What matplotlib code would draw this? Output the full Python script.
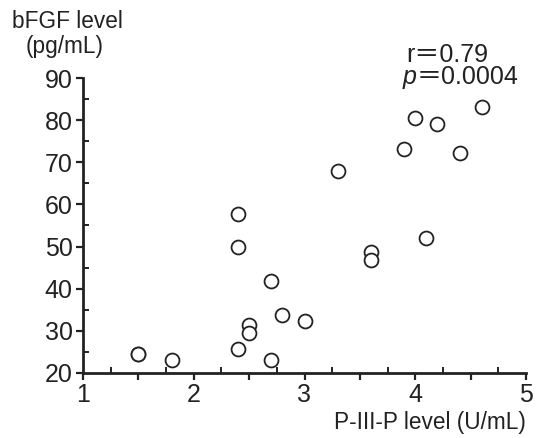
import matplotlib
matplotlib.use("Agg")
import matplotlib.pyplot as plt
from matplotlib.ticker import MultipleLocator, FixedLocator

plt.rcParams['font.family'] = ['Liberation Sans', 'DejaVu Sans']

# P-III-P level (U/mL) and bFGF level (pg/mL) per patient
p3p = [1.5, 1.5, 1.8, 2.4, 2.4, 2.4, 2.5, 2.5, 2.7, 2.7, 2.8, 3.0,
       3.3, 3.6, 3.6, 3.9, 4.0, 4.1, 4.2, 4.4, 4.6]
bfgf = [24.6, 24.5, 23.2, 57.8, 49.8, 25.7, 31.5, 29.5, 41.8, 23.2, 33.7, 32.3,
        68.0, 48.7, 46.7, 73.2, 80.6, 52.0, 79.0, 72.1, 83.1]

x_ticks = [1, 2, 3, 4, 5]
y_ticks = [20, 30, 40, 50, 60, 70, 80, 90]
r_value = "0.79"
p_value = "0.0004"

ink = "#222222"
fig = plt.figure(figsize=(5.39, 4.38), dpi=100)
ax = fig.add_axes([83 / 539, 1 - 373 / 438, (526 - 83) / 539, (373 - 78) / 438])

ax.scatter(p3p, bfgf, s=100, facecolors="white", edgecolors=ink, linewidths=1.3,
           zorder=3, clip_on=False)

ax.set_xlim(1, 5)
ax.set_ylim(20, 90)
for side in ("top", "right"):
    ax.spines[side].set_visible(False)
for side in ("left", "bottom"):
    ax.spines[side].set_linewidth(2.0)
    ax.spines[side].set_color(ink)

# outward ticks at integers and half steps on x, decades on y; inward minor ticks
x_major = [1, 1.5, 2, 2.5, 3, 3.5, 4, 4.5, 5]
ax.xaxis.set_major_locator(FixedLocator(x_major))
ax.set_xticklabels([str(v) if v in x_ticks else "" for v in x_major])
ax.xaxis.set_minor_locator(FixedLocator([1.25, 1.75, 2.25, 2.75, 3.25, 3.75, 4.25, 4.75]))
ax.set_yticks(y_ticks)
ax.set_yticklabels([str(v) for v in y_ticks])
ax.yaxis.set_minor_locator(MultipleLocator(5))

ax.tick_params(which="major", direction="out", length=5, width=1.6, color=ink,
               labelsize=18, labelcolor=ink, pad=2.5)
ax.tick_params(which="minor", direction="in", length=4, width=1.4, color=ink)

fig.text(12 / 539, 1 - 21 / 438, "bFGF level", fontsize=16.3, color=ink, va="center")
fig.text(26 / 539, 1 - 46 / 438, "(pg/mL)", fontsize=16.3, color=ink, va="center")
fig.text(526 / 539, 1 - 422 / 438, "P-III-P level (U/mL)", fontsize=16.3, color=ink,
         va="center", ha="right")

# correlation annotation; the wide equals sign comes from the CJK fallback font
ann_font = ['Liberation Sans', 'Noto Sans CJK JP']
fig.text(406 / 539, 1 - 55 / 438, "r\uff1d" + r_value, fontsize=18, family=ann_font,
         color=ink, va="center")
fig.text(403 / 539, 1 - 77 / 438, "p", fontsize=18, fontstyle="italic", color=ink,
         va="center")
fig.text(417 / 539, 1 - 77 / 438, "\uff1d" + p_value, fontsize=18, family=ann_font,
         color=ink, va="center")

fig.savefig("out.png", dpi=100)
